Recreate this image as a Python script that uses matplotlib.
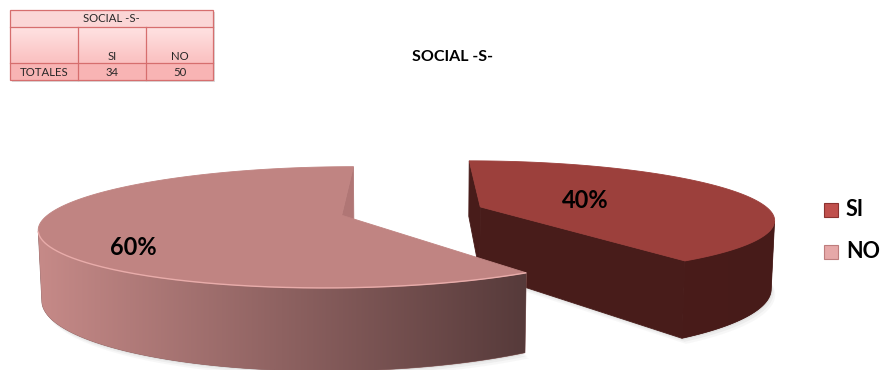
import numpy as np
import matplotlib
matplotlib.use("Agg")
import matplotlib.pyplot as plt
from matplotlib.patches import Polygon, Rectangle

# ---- data ----
categories = ["SI", "NO"]
values = [34, 50]
chart_title = "SOCIAL -S-"
table_title = "SOCIAL -S-"
row_label = "TOTALES"

# ---- styling ----
top_colors = [(156, 64, 60), (192, 132, 130)]
wall_light = [(73, 28, 26), (198, 138, 136)]
wall_dark = [(71, 27, 25), (86, 58, 58)]
face_colors = [(72, 28, 26), (176, 118, 117)]
legend_colors = [(192, 80, 77), (230, 168, 168)]
legend_edges = [(140, 50, 48), (190, 125, 125)]


def rgb(c):
    return tuple(v / 255 for v in c)


W, H = 885, 370
fig = plt.figure(figsize=(W / 100, H / 100), dpi=100)
ax = fig.add_axes([0, 0, 1, 1])
ax.set_xlim(0, W)
ax.set_ylim(H, 0)
ax.axis("off")

FONT = ["Lato", "DejaVu Sans"]

# ---- 3D pie projection ----
CX, CY = 412.0, 211.0
FOCAL = 1450.0
DIST = 5.0
PHI = np.arcsin(0.195)
SP, CP = np.sin(PHI), np.cos(PHI)
THICK = 0.236
EXPLODE = 0.25
CAM = np.array([0.0, -DIST * CP, DIST * SP])


def project(X, Y, Z):
    X = np.asarray(X, float)
    Y = np.asarray(Y, float)
    Z = np.asarray(Z, float)
    depth = DIST + Y * CP - Z * SP
    sx = CX + FOCAL * X / depth
    sy = CY - FOCAL * (Y * SP + Z * CP) / depth
    return sx, sy, depth


def facing(normal, point):
    return np.dot(normal, CAM - point) > 0


total = float(sum(values))
fracs = [v / total for v in values]
slices = []
start = 0.0
for i, f in enumerate(fracs):
    a0 = start
    a1 = start + f * 2 * np.pi
    mid = 0.5 * (a0 + a1)
    off = np.array([EXPLODE * np.sin(mid), EXPLODE * np.cos(mid)])
    slices.append(dict(i=i, a0=a0, a1=a1, mid=mid, off=off))
    start = a1

# far slices first
slices.sort(key=lambda s: -project(s["off"][0], s["off"][1], 0)[2])

# soft shadow beneath the slices
for s in slices:
    th = np.linspace(s["a0"], s["a1"], 120)
    bx = np.concatenate([[s["off"][0]], s["off"][0] + np.sin(th)])
    by = np.concatenate([[s["off"][1]], s["off"][1] + np.cos(th)])
    sx, sy, _ = project(bx, by, np.full_like(bx, -THICK))
    for k, a in zip([1.0, 2.5, 4.0], [0.10, 0.08, 0.05]):
        ax.add_patch(Polygon(np.c_[sx + k, sy + k * 1.4], closed=True,
                             facecolor=(0.45, 0.45, 0.45), alpha=a,
                             edgecolor="none", zorder=1))

z = 2
for s in slices:
    i = s["i"]
    ox, oy = s["off"]
    faces = []
    # radial cut faces
    for ang, sign in ((s["a0"], -1), (s["a1"], 1)):
        nrm = sign * np.array([np.cos(ang), -np.sin(ang), 0.0])
        pc = np.array([ox + 0.5 * np.sin(ang), oy + 0.5 * np.cos(ang), -THICK / 2])
        if not facing(nrm, pc):
            continue
        X = [ox, ox + np.sin(ang), ox + np.sin(ang), ox]
        Y = [oy, oy + np.cos(ang), oy + np.cos(ang), oy]
        Zs = [0, 0, -THICK, -THICK]
        sx, sy, d = project(X, Y, Zs)
        faces.append((d.mean(), "face", np.c_[sx, sy]))
    # outer curved wall: visible run of the rim
    th = np.linspace(s["a0"], s["a1"], 400)
    vis = np.array([facing(np.array([np.sin(t), np.cos(t), 0.0]),
                           np.array([ox + np.sin(t), oy + np.cos(t), -THICK / 2]))
                    for t in th])
    wall_th = th[vis]
    if len(wall_th) > 1:
        X = ox + np.sin(wall_th)
        Y = oy + np.cos(wall_th)
        tx, ty, d = project(X, Y, np.zeros_like(X))
        bx, by, _ = project(X, Y, np.full_like(X, -THICK))
        pts = np.r_[np.c_[tx, ty], np.c_[bx, by][::-1]]
        faces.append((d.mean(), "wall", pts))
    faces.sort(key=lambda f: -f[0])
    for d, kind, pts in faces:
        if kind == "face":
            col = rgb(face_colors[i])
            ax.add_patch(Polygon(pts, closed=True, facecolor=col, edgecolor=col,
                                 linewidth=0.6, zorder=z))
        else:
            x0, x1 = pts[:, 0].min(), pts[:, 0].max()
            y0, y1 = pts[:, 1].min(), pts[:, 1].max()
            t = np.linspace(0, 1, 256)[None, :, None]
            cl = np.array(rgb(wall_light[i]))[None, None, :]
            cd = np.array(rgb(wall_dark[i]))[None, None, :]
            img = np.repeat((1 - t) * cl + t * cd, 4, axis=0)
            base = tuple(0.5 * (a + b) for a, b in zip(rgb(wall_light[i]), rgb(wall_dark[i])))
            ax.add_patch(Polygon(pts, closed=True, facecolor=base, edgecolor=base,
                                 linewidth=0.5, zorder=z))
            poly = Polygon(pts, closed=True, facecolor="none", edgecolor="none", zorder=z)
            ax.add_patch(poly)
            im = ax.imshow(img, extent=(x0, x1, y1, y0), aspect="auto",
                           interpolation="bilinear", zorder=z + 0.05)
            im.set_clip_path(poly)
        z += 0.1
    z += 1
    # top face
    th = np.linspace(s["a0"], s["a1"], 240)
    tx = np.concatenate([[ox], ox + np.sin(th)])
    ty = np.concatenate([[oy], oy + np.cos(th)])
    sx, sy, _ = project(tx, ty, np.zeros_like(tx))
    ax.add_patch(Polygon(np.c_[sx, sy], closed=True, facecolor=rgb(top_colors[i]),
                         edgecolor=rgb(top_colors[i]), linewidth=0.6, zorder=z))
    # light rim along the visible front edge of the lighter slice
    if i == 1 and len(wall_th) > 1:
        rx, ry, _ = project(ox + np.sin(wall_th), oy + np.cos(wall_th), np.zeros_like(wall_th))
        ax.plot(rx, ry, color=rgb((232, 172, 170)), lw=1.0, zorder=z + 0.5,
                solid_capstyle="butt")
    z += 1

# percentage labels on the top faces
label_radius = [0.40, 0.79]
label_shift = [0.0, -22.0]
for s in slices:
    i = s["i"]
    ang = s["mid"] + np.deg2rad(label_shift[i])
    X = s["off"][0] + label_radius[i] * np.sin(ang)
    Y = s["off"][1] + label_radius[i] * np.cos(ang)
    sx, sy, _ = project(X, Y, 0.0)
    ax.text(float(sx), float(sy), f"{round(fracs[i] * 100):.0f}%", ha="center",
            va="center", fontsize=17, fontweight="bold", family=FONT,
            color="black", zorder=50)

# title
ax.text(453, 57, chart_title, ha="center", va="center", fontsize=11.5,
        fontweight="bold", family=FONT, color="black", zorder=50)

# legend
leg_y = [210, 252]
for i, cat in enumerate(categories):
    ax.add_patch(Rectangle((824, leg_y[i] - 7), 14, 14, facecolor=rgb(legend_colors[i]),
                           edgecolor=rgb(legend_edges[i]), linewidth=0.8, zorder=50))
    ax.text(846, leg_y[i], cat, ha="left", va="center", fontsize=15.5,
            fontweight="bold", family=FONT, color="black", zorder=50)

# summary table
cols = [10, 78, 146, 213]
rows = [10, 27, 63, 80]
border = rgb((214, 110, 110))
ax.add_patch(Rectangle((cols[0] + 2, rows[0] + 2), cols[-1] - cols[0], rows[-1] - rows[0],
                       facecolor=(0.6, 0.6, 0.6), alpha=0.35, edgecolor="none", zorder=40))
ax.add_patch(Rectangle((cols[0], rows[0]), cols[-1] - cols[0], rows[1] - rows[0],
                       facecolor=rgb((251, 214, 214)), edgecolor="none", zorder=41))
grad = np.linspace(0, 1, 64)[:, None]
c_top = np.array(rgb((255, 226, 226)))
c_bot = np.array(rgb((250, 192, 192)))
img = (1 - grad)[..., None] * c_top + grad[..., None] * c_bot
ax.imshow(np.repeat(img, 4, axis=1), extent=(cols[0], cols[-1], rows[2], rows[1]),
          aspect="auto", zorder=41, interpolation="bilinear")
ax.add_patch(Rectangle((cols[0], rows[2]), cols[-1] - cols[0], rows[3] - rows[2],
                       facecolor=rgb((248, 180, 180)), edgecolor="none", zorder=41))
ax.add_patch(Rectangle((cols[0], rows[0]), cols[-1] - cols[0], rows[-1] - rows[0],
                       facecolor="none", edgecolor=border, linewidth=0.9, zorder=43))
ax.plot([cols[0], cols[-1]], [rows[1], rows[1]], color=border, lw=0.9, zorder=43)
ax.plot([cols[0], cols[-1]], [rows[2], rows[2]], color=border, lw=0.9, zorder=43)
ax.plot([cols[1], cols[1]], [rows[1], rows[3]], color=border, lw=0.9, zorder=43)
ax.plot([cols[2], cols[2]], [rows[1], rows[3]], color=border, lw=0.9, zorder=43)

tkw = dict(ha="center", va="center", fontsize=8.2, family=FONT, color=rgb((40, 40, 40)), zorder=44)
ax.text((cols[0] + cols[-1]) / 2, (rows[0] + rows[1]) / 2 + 0.5, table_title, **tkw)
for j, cat in enumerate(categories):
    cx = (cols[j + 1] + cols[j + 2]) / 2
    ax.text(cx, 57, cat, **tkw)
    ax.text(cx, (rows[2] + rows[3]) / 2 + 0.5, str(values[j]), **tkw)
ax.text((cols[0] + cols[1]) / 2, (rows[2] + rows[3]) / 2 + 0.5, row_label, **tkw)

ax.set_xlim(0, W)
ax.set_ylim(H, 0)
fig.savefig("out.png", dpi=100)
